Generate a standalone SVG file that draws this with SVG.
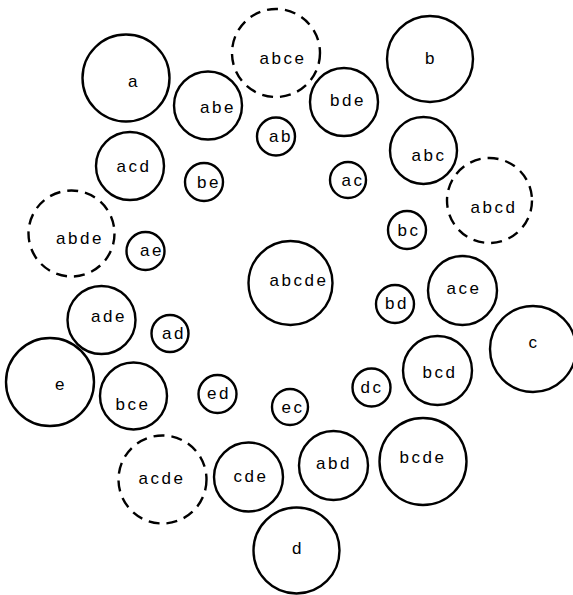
<svg xmlns="http://www.w3.org/2000/svg" width="573" height="595" viewBox="0 0 573 595">
<style>
circle{fill:none;stroke:#000;stroke-width:2.4}
.d{stroke-dasharray:11 7}
text{font-family:"Liberation Sans","DejaVu Sans",sans-serif;font-size:17px;letter-spacing:2.5px;text-anchor:middle;fill:#000}
</style>
<rect width="573" height="595" fill="#fff"/>
<g id="a"><circle cx="126" cy="78" r="43.5"/><text x="134" y="87">a</text></g>
<g id="abce"><circle class="d" cx="276" cy="53" r="44"/><text x="283" y="64">abce</text></g>
<g id="b"><circle cx="430" cy="59" r="43"/><text x="431" y="64">b</text></g>
<g id="abe"><circle cx="208" cy="105.5" r="34"/><text x="218" y="113">abe</text></g>
<g id="bde"><circle cx="344" cy="102" r="34"/><text x="348" y="106">bde</text></g>
<g id="ab"><circle cx="276" cy="136.5" r="19"/><text x="281" y="142">ab</text></g>
<g id="abc"><circle cx="423.5" cy="150.5" r="33.5"/><text x="429" y="161">abc</text></g>
<g id="acd"><circle cx="130" cy="166" r="34"/><text x="134" y="172">acd</text></g>
<g id="be"><circle cx="204" cy="182" r="19"/><text x="209" y="188">be</text></g>
<g id="ac"><circle cx="348" cy="180" r="18"/><text x="353" y="186">ac</text></g>
<g id="abcd"><circle class="d" cx="489.5" cy="200.5" r="42.5"/><text x="494" y="213">abcd</text></g>
<g id="abde"><circle class="d" cx="71.5" cy="233.5" r="43"/><text x="80" y="244">abde</text></g>
<g id="ae"><circle cx="145.5" cy="251" r="19"/><text x="152" y="256">ae</text></g>
<g id="bc"><circle cx="407" cy="230" r="19"/><text x="409" y="236">bc</text></g>
<g id="abcde"><circle cx="290.5" cy="283" r="42"/><text x="299" y="286">abcde</text></g>
<g id="ace"><circle cx="462.5" cy="290.5" r="34.5"/><text x="464" y="294">ace</text></g>
<g id="bd"><circle cx="395" cy="304" r="19"/><text x="397" y="309">bd</text></g>
<g id="ade"><circle cx="101.5" cy="320" r="34"/><text x="109" y="322">ade</text></g>
<g id="c"><circle cx="533" cy="349" r="43"/><text x="534" y="348">c</text></g>
<g id="ad"><circle cx="170" cy="333.5" r="18.5"/><text x="174" y="339">ad</text></g>
<g id="e"><circle cx="50" cy="382" r="44"/><text x="61" y="390">e</text></g>
<g id="bcd"><circle cx="437.5" cy="370.5" r="34.5"/><text x="440" y="378">bcd</text></g>
<g id="ed"><circle cx="217.5" cy="394" r="19"/><text x="219" y="399">ed</text></g>
<g id="dc"><circle cx="371.5" cy="387.5" r="19"/><text x="372" y="393">dc</text></g>
<g id="ec"><circle cx="290" cy="407" r="18"/><text x="293" y="413">ec</text></g>
<g id="bce"><circle cx="133.5" cy="396" r="33.5"/><text x="133" y="410">bce</text></g>
<g id="acde"><circle class="d" cx="162.5" cy="479.5" r="44"/><text x="162" y="484">acde</text></g>
<g id="cde"><circle cx="248.5" cy="477" r="34.5"/><text x="251" y="482">cde</text></g>
<g id="abd"><circle cx="333.5" cy="465.5" r="34.5"/><text x="334" y="469">abd</text></g>
<g id="bcde"><circle cx="423" cy="461.5" r="43.5"/><text x="423" y="463">bcde</text></g>
<g id="d"><circle cx="296.5" cy="550.5" r="43"/><text x="298" y="554">d</text></g>
<g id="connectors"></g>
</svg>
